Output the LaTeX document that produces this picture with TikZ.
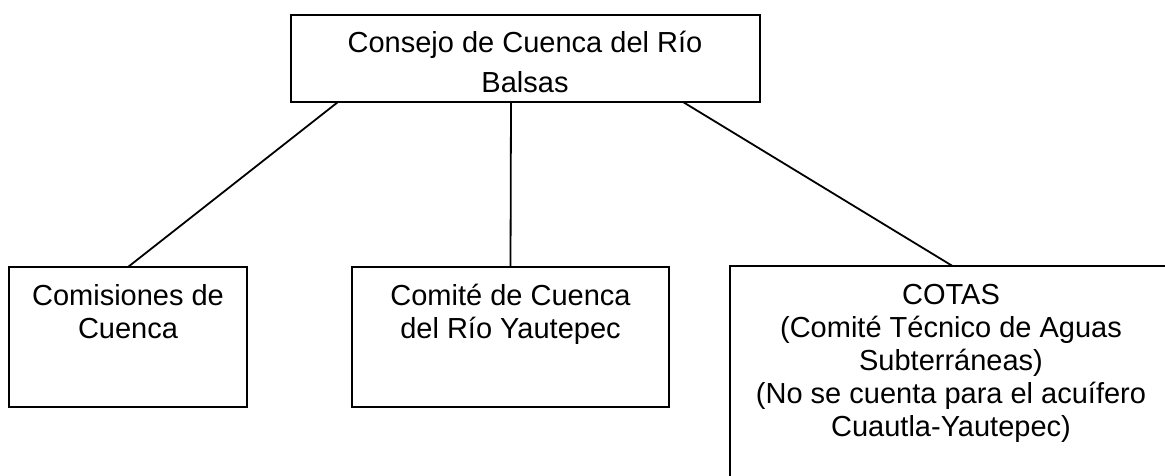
\documentclass[tikz,border=0pt]{standalone}
\usepackage{fontspec}
\setmainfont{Liberation Sans}
\begin{document}
\begin{tikzpicture}[x=1pt,y=-1pt,
  box/.style={draw=black, line width=2pt, inner sep=0pt, outer sep=0pt, rectangle},
  lbl/.style={font=\fontsize{29}{33}\selectfont, align=center, inner sep=0pt, anchor=base},
  conn/.style={draw=black, line width=1.8pt}]
\useasboundingbox (0,0) rectangle (1165,476);
\clip (0,0) rectangle (1165,476);
% boxes
\node[box, minimum width=469pt, minimum height=87pt] (top) at (525.5,58.5) {};
\node[box, minimum width=238pt, minimum height=140pt] (left) at (128,337) {};
\node[box, minimum width=317pt, minimum height=140pt] (mid) at (510.5,337) {};
\node[box, minimum width=445pt, minimum height=224pt] (right) at (952.5,378) {};
% texts (anchor base = baseline of the last line)
\node[lbl] (topt) at (525,93) {Consejo de Cuenca del Río\\[7pt]Balsas};
\node[lbl] (leftt) at (128,338) {Comisiones de\\Cuenca};
\node[lbl] (midt) at (510.5,338) {Comité de Cuenca\\del Río Yautepec};
\node[lbl] (rightt) at (951,436) {COTAS\\(Comité Técnico de Aguas\\Subterráneas)\\(No se cuenta para el acuífero\\Cuautla-Yautepec)};
% connectors
\draw[conn] ([xshift=47pt]top.south west) -- (left.north);
\draw[conn] ([xshift=220pt]top.south west) -- (mid.north);
\draw[conn] ([xshift=392pt]top.south west) -- (right.north);
\end{tikzpicture}
\end{document}
